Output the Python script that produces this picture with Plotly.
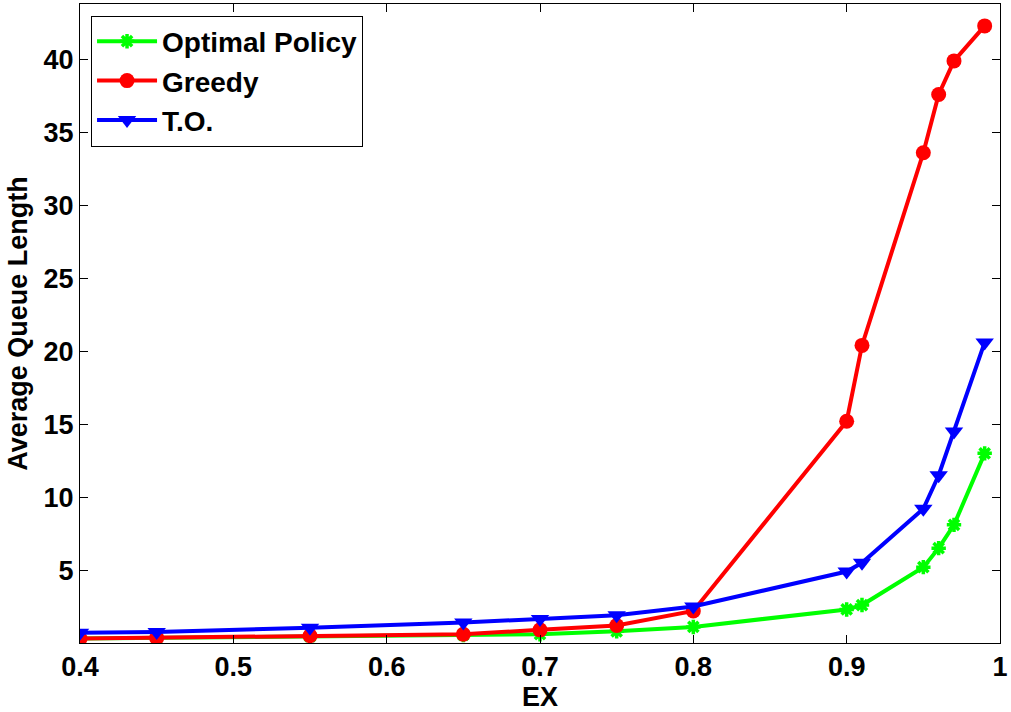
import plotly.graph_objects as go

ex = [0.4, 0.45, 0.55, 0.65, 0.7, 0.75, 0.8, 0.9, 0.91, 0.95, 0.96, 0.97, 0.99]
optimal = [0.3, 0.35, 0.45, 0.55, 0.6, 0.8, 1.1, 2.3, 2.6, 5.2, 6.5, 8.1, 13.0]
greedy = [0.3, 0.35, 0.5, 0.6, 0.9, 1.2, 2.2, 15.2, 20.4, 33.6, 37.6, 39.9, 42.3]
to = [0.7, 0.75, 1.05, 1.4, 1.65, 1.9, 2.5, 4.9, 5.5, 9.2, 11.5, 14.5, 20.6]

xticks = [0.4, 0.5, 0.6, 0.7, 0.8, 0.9, 1.0]
xticklabels = ["0.4", "0.5", "0.6", "0.7", "0.8", "0.9", "1"]
yticks = [5, 10, 15, 20, 25, 30, 35, 40]

FONT = "Liberation Sans, Arial, sans-serif"
bold = dict(family=FONT, size=27, color="black", weight="bold")
legend_font = dict(family=FONT, size=28, color="black", weight="bold")

fig = go.Figure()
fig.add_trace(go.Scatter(x=ex, y=optimal, name="Optimal Policy", mode="lines+markers",
                         line=dict(color="#00ff00", width=4),
                         marker=dict(symbol="asterisk-open", size=12, color="#00ff00",
                                     line=dict(color="#00ff00", width=3.5))))
fig.add_trace(go.Scatter(x=ex, y=greedy, name="Greedy", mode="lines+markers",
                         line=dict(color="#ff0000", width=4),
                         marker=dict(symbol="circle", size=15, color="#ff0000")))
fig.add_trace(go.Scatter(x=ex, y=to, name="T.O.", mode="lines+markers",
                         line=dict(color="#0000ff", width=4),
                         marker=dict(symbol="triangle-down", size=16, color="#0000ff")))

axis_common = dict(showline=True, linecolor="black", linewidth=1, mirror="allticks",
                   ticks="inside", ticklen=8, tickcolor="black", showgrid=False, zeroline=False,
                   tickfont=bold)

fig.update_xaxes(range=[0.4, 1.0], tickvals=xticks, ticktext=xticklabels,
                 title=dict(text="EX", standoff=0, font=bold), **axis_common)
fig.update_yaxes(range=[0, 43.8], tickvals=yticks,
                 title=dict(text="Average Queue Length", standoff=8, font=bold), **axis_common)

fig.update_layout(
    width=1011, height=712,
    margin=dict(l=80, r=11, t=4, b=69),
    plot_bgcolor="white", paper_bgcolor="white",
    legend=dict(x=0.012, y=0.982, xanchor="left", yanchor="top",
                bordercolor="black", borderwidth=1, bgcolor="white",
                font=legend_font, tracegroupgap=0, itemwidth=60),
    showlegend=True,
)

fig.write_html("out.html")
